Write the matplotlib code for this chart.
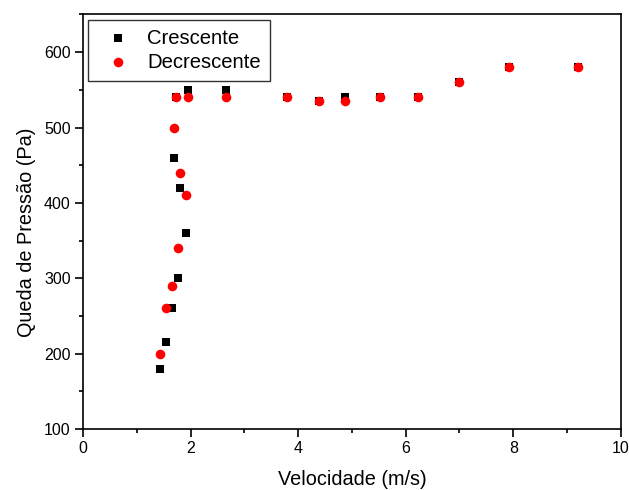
import matplotlib
matplotlib.use("Agg")
import matplotlib.pyplot as plt
from matplotlib.ticker import MultipleLocator

plt.rcParams['font.family'] = ['Liberation Sans', 'DejaVu Sans']

cres_x = [1.43, 1.55, 1.65, 1.77, 1.91, 1.80, 1.69, 1.72, 1.96, 2.65, 3.79, 4.38, 4.87, 5.53, 6.23, 6.99, 7.93, 9.20]
cres_y = [180, 215, 260, 300, 360, 420, 460, 540, 550, 550, 540, 535, 540, 540, 540, 560, 580, 580]

decr_x = [1.43, 1.54, 1.65, 1.76, 1.91, 1.80, 1.70, 1.72, 1.96, 2.65, 3.79, 4.38, 4.87, 5.53, 6.23, 6.99, 7.93, 9.20]
decr_y = [200, 260, 290, 340, 410, 440, 500, 540, 540, 540, 540, 535, 535, 540, 540, 560, 580, 580]

fig = plt.figure(figsize=(6.29, 4.90), dpi=100)
ax = fig.add_axes([0.132, 0.1245, 0.855, 0.846])

ax.scatter(cres_x, cres_y, marker='s', s=34, color='black', linewidths=0, label='Crescente', zorder=3)
ax.scatter(decr_x, decr_y, marker='o', s=48, color='red', linewidths=0, label='Decrescente', zorder=4)

ax.set_xlim(0, 10)
ax.set_ylim(100, 650)
ax.xaxis.set_major_locator(MultipleLocator(2))
ax.xaxis.set_minor_locator(MultipleLocator(1))
ax.yaxis.set_major_locator(MultipleLocator(100))
ax.yaxis.set_minor_locator(MultipleLocator(50))

ax.tick_params(which='major', direction='out', length=5.8, width=1.2, labelsize=11.5, pad=3, top=False, right=False)
ax.tick_params(which='minor', direction='out', length=2.8, width=1.2, top=False, right=False)
for sp in ax.spines.values():
    sp.set_linewidth(1.2)

ax.set_xlabel('Velocidade (m/s)', fontsize=14.3, labelpad=10)
ax.set_ylabel('Queda de Pressão (Pa)', fontsize=14.3)
ax.yaxis.set_label_coords(-0.088, 0.475)

leg = ax.legend(loc='upper left', fontsize=14.6, frameon=True, fancybox=False,
                edgecolor='black', borderaxespad=0.25, handletextpad=0.45,
                borderpad=0.45, labelspacing=0.25, handlelength=2.0, scatterpoints=1)
leg.get_frame().set_linewidth(1.0)

fig.savefig('out.png', dpi=100)
